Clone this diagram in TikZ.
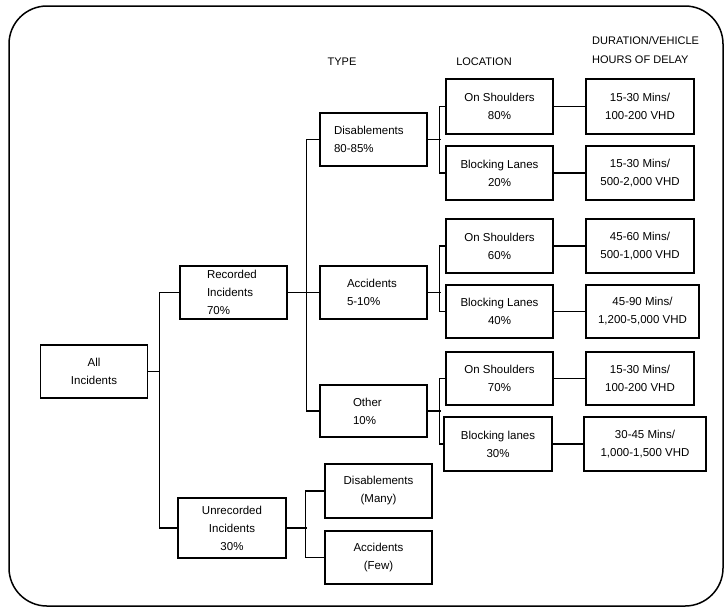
\documentclass[tikz,border=0pt]{standalone}
\usepackage{fontspec}
\setmainfont{Liberation Sans}
\begin{document}
\begin{tikzpicture}[x=1pt,y=-1pt,
  box/.style={draw, line width=1.5pt, minimum width=107pt, minimum height=54pt, align=center, inner sep=0pt, font=\fontsize{11.5}{18}\selectfont},
  lnk/.style={line width=1.5pt},
  hdr/.style={font=\fontsize{11}{19}\selectfont, inner sep=0pt}]
\useasboundingbox (0,0) rectangle (727,611);
\draw[line width=1.5pt, rounded corners=38pt] (9,6) rectangle (723,606);
% headers
\node[hdr] (hType) at (342,62) {TYPE};
\node[hdr] (hLoc) at (484,62) {LOCATION};
\node[hdr, align=left, anchor=west] (hDur) at (592,50) {DURATION/VEHICLE\\HOURS OF DELAY};
% boxes
\node[box, minimum height=53pt] (all) at (94,371.5) {All\\Incidents};
\node[box, align=left, text width=53pt, inner xsep=27pt, minimum height=53pt] (rec) at (233.5,292.5) {Recorded\\Incidents\\70\%};
\node[box, minimum width=108pt, minimum height=60pt] (unrec) at (232,528) {Unrecorded\\Incidents\\30\%};
\node[box, align=left, text width=79pt, inner xsep=14pt, minimum height=53pt] (dis) at (373.5,139.5) {Disablements\\80-85\%};
\node[box, align=left, text width=53pt, inner xsep=27pt, minimum height=53pt] (acc) at (373.5,292.5) {Accidents\\5-10\%};
\node[box, align=left, text width=41pt, inner xsep=33pt, minimum height=52pt] (oth) at (373.5,411) {Other\\10\%};
\node[box] (dm) at (378.5,491) {Disablements\\(Many)};
\node[box, minimum height=53pt] (af) at (378.5,557.5) {Accidents\\(Few)};
\node[box, minimum height=55pt] (os1) at (499.5,106.5) {On Shoulders\\80\%};
\node[box] (bl1) at (499.5,173) {Blocking Lanes\\20\%};
\node[box] (os2) at (499.5,246) {On Shoulders\\60\%};
\node[box, minimum height=53pt] (bl2) at (499.5,311.5) {Blocking Lanes\\40\%};
\node[box, minimum height=53pt] (os3) at (499.5,378.5) {On Shoulders\\70\%};
\node[box, minimum width=108pt] (bl3) at (498,444) {Blocking lanes\\30\%};
\node[box, minimum width=108pt, minimum height=55pt] (d1) at (640,106.5) {15-30 Mins/\\100-200 VHD};
\node[box, minimum width=108pt] (d2) at (640,173) {15-30 Mins/\\500-2,000 VHD};
\node[box, minimum width=108pt] (d3) at (640,246) {45-60 Mins/\\500-1,000 VHD};
\node[box, minimum width=113pt, minimum height=53pt] (d4) at (642.5,311.5) {45-90 Mins/\\1,200-5,000 VHD};
\node[box, minimum width=108pt, minimum height=53pt] (d5) at (640,378.5) {15-30 Mins/\\100-200 VHD};
\node[box, minimum width=122pt] (d6) at (645,444) {30-45 Mins/\\1,000-1,500 VHD};
% connectors
\coordinate (tL) at (160,371.5);
\draw[lnk] (all.east) -- (tL);
\draw[lnk] (rec.west) -- ++(-20,0) |- (unrec.west);
\draw[lnk] (rec.east) -- (acc.west);
\draw[lnk] (dis.west) -- ++(-13,0) |- (oth.west);
\draw[lnk] (dis.east) -- ++(13,0);
\draw[lnk] (acc.east) -- ++(13,0);
\draw[lnk] (oth.east) -- ++(13,0);
\draw[lnk] (os1.west) -- ++(-6,0) |- (bl1.west);
\draw[lnk] (os2.west) -- ++(-6,0) |- (bl2.west);
\draw[lnk] (os3.west) -- ++(-6,0) |- (bl3.west);
\draw[lnk] (unrec.east) -- ++(20,0);
\draw[lnk] (dm.west) -- ++(-19,0) |- (af.west);
\draw[lnk] (os1.east) -- (d1.west);
\draw[lnk] (bl1.east) -- (d2.west);
\draw[lnk] (os2.east) -- (d3.west);
\draw[lnk] (bl2.east) -- (d4.west);
\draw[lnk] (os3.east) -- (d5.west);
\draw[lnk] (bl3.east) -- (d6.west);
\end{tikzpicture}
\end{document}
